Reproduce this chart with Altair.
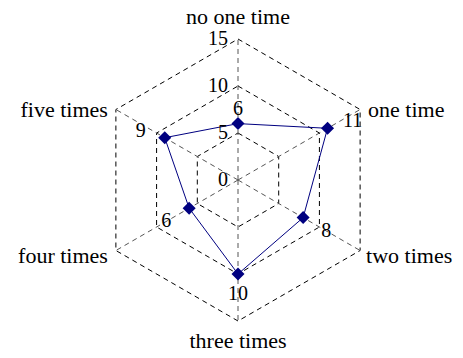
import altair as alt
import pandas as pd

categories = ["no one time", "one time", "two times", "three times", "four times", "five times"]
values = [6, 11, 8, 10, 6, 9]
grid_levels = [5, 10, 15]
tick_values = [0, 5, 10, 15]
max_val = 15

FONT = "Liberation Serif"
NAVY = "#000080"

df = pd.DataFrame({"category": categories, "value": values, "idx": list(range(len(categories)))})
grid_df = pd.DataFrame([{"level": l, "idx": i} for l in grid_levels for i in range(len(categories))])
spoke_df = pd.DataFrame({"idx": list(range(len(categories))), "level": [max_val] * len(categories)})
tick_df = pd.DataFrame({"level": tick_values, "label": [str(t) for t in tick_values]})
cat_df = pd.DataFrame({"category": categories, "idx": list(range(len(categories))), "level": [max_val] * len(categories)})

xs = alt.Scale(domain=[-24.468, 23.085], nice=False, zero=False)
ys = alt.Scale(domain=[-18.085, 18.298], nice=False, zero=False)

TH = "PI/2 - datum.idx*PI/3"

def polar(ch, field):
    return ch.transform_calculate(
        px=f"datum.{field}*cos({TH})",
        py=f"datum.{field}*sin({TH})",
    )

X = alt.X("px:Q", scale=xs, axis=None)
Y = alt.Y("py:Q", scale=ys, axis=None)

grid = polar(alt.Chart(grid_df), "level").mark_line(
    interpolate="linear-closed", color="black", strokeWidth=1, strokeDash=[5, 4]
).encode(x=X, y=Y, detail="level:N", order="idx:Q")

spokes = alt.Chart(spoke_df).transform_calculate(
    x0="0", y0="0",
    px=f"datum.level*cos({TH})",
    py=f"datum.level*sin({TH})",
).mark_rule(color="#555555", strokeWidth=1, strokeDash=[5, 4]).encode(
    x=alt.X("x0:Q", scale=xs, axis=None),
    y=alt.Y("y0:Q", scale=ys, axis=None),
    x2="px:Q", y2="py:Q",
)

line = polar(alt.Chart(df), "value").mark_line(
    interpolate="linear-closed", color=NAVY, strokeWidth=1
).encode(x=X, y=Y, order="idx:Q")

points = polar(alt.Chart(df), "value").mark_point(
    shape="diamond", filled=True, size=170, color=NAVY, opacity=1
).encode(x=X, y=Y)

ticks = alt.Chart(tick_df).transform_calculate(x0="0").mark_text(
    align="right", baseline="middle", dx=-10, fontSize=20, font=FONT, color="black"
).encode(
    x=alt.X("x0:Q", scale=xs, axis=None),
    y=alt.Y("level:Q", scale=ys, axis=None),
    text="label:N",
)

val_offsets = {0: (0, -15), 1: (25, -7), 2: (23, 13), 3: (0, 20), 4: (-23, 13), 5: (-24, -7)}
val_layers = []
for i, (ddx, ddy) in val_offsets.items():
    val_layers.append(
        polar(alt.Chart(df), "value").transform_filter(f"datum.idx == {i}").mark_text(
            align="center", baseline="middle", dx=ddx, dy=ddy, fontSize=20, font=FONT, color="black"
        ).encode(x=X, y=Y, text="value:Q")
    )

# (align, baseline, dx, dy)
cat_style = {
    0: ("center", "alphabetic", 0, -15),
    1: ("left", "alphabetic", 8, 7),
    2: ("left", "alphabetic", 6, 12),
    3: ("center", "alphabetic", 0, 27),
    4: ("right", "alphabetic", -8, 12),
    5: ("right", "alphabetic", -8, 7),
}
cat_layers = []
for i, (al, bl, ddx, ddy) in cat_style.items():
    cat_layers.append(
        polar(alt.Chart(cat_df), "level").transform_filter(f"datum.idx == {i}").mark_text(
            align=al, baseline=bl, dx=ddx, dy=ddy, fontSize=22, font=FONT, color="black"
        ).encode(x=X, y=Y, text="category:N")
    )

chart = alt.layer(grid, spokes, line, points, ticks, *val_layers, *cat_layers).properties(
    width=447, height=342, padding=0, autosize="none",
).configure_view(stroke=None)

chart.save("out.html", embed_options={"renderer": "svg", "actions": False})
